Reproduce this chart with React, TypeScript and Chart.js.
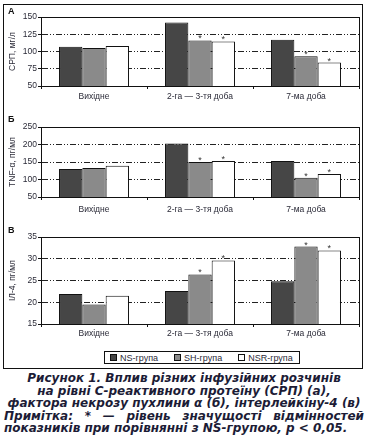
import React, { useEffect, useRef } from 'react';
import { Chart, registerables } from 'chart.js';

Chart.register(...registerables);

const categories = ['Вихідне', '2-га — 3-тя доба', '7-ма доба'];
const seriesNames = ['NS-група', 'SH-група', 'NSR-група'];
const seriesColors = ['#464646', '#8a8a8a', '#ffffff'];

const crpNS = [107, 142, 117];
const crpSH = [105, 116, 93];
const crpNSR = [108, 114.5, 84];

const tnfNS = [130, 203, 153];
const tnfSH = [133, 150, 105];
const tnfNSR = [139, 153, 116];

const il4NS = [21.9, 22.6, 24.8];
const il4SH = [19.5, 26.4, 32.8];
const il4NSR = [21.5, 29.6, 31.9];

const sigNS = [false, false, false];
const sigSH = [false, true, true];
const sigNSR = [false, true, true];

const panelLetters = ['А', 'Б', 'В'];
const yTitles = ['СРП, мг/л', 'TNF-α, пг/мл', 'ІЛ-4, пг/мл'];
const yMins = [50, 50, 15];
const yMaxs = [150, 250, 35];
const ySteps = [25, 50, 5];

const captionLines = [
  'Рисунок 1. Вплив різних інфузійних розчинів',
  'на рівні С-реактивного протеїну (СРП) (а),',
  'фактора некрозу пухлини α (б), інтерлейкіну-4 (в)',
  'Примітка: * — рівень значущості відмінностей',
  'показників при порівнянні з NS-групою, p < 0,05.',
];

const panelValues = [
  [crpNS, crpSH, crpNSR],
  [tnfNS, tnfSH, tnfNSR],
  [il4NS, il4SH, il4NSR],
];
const sigFlags = [sigNS, sigSH, sigNSR];

// layout of each panel canvas (page coordinates)
const panelLayout = [
  { top: 5, height: 100, padTop: 12, xHeight: 19, labelPad: 3, letterY: 7 },
  { top: 115, height: 100, padTop: 12, xHeight: 18, labelPad: 4.5, letterY: 5 },
  { top: 222, height: 118, padTop: 15, xHeight: 16, labelPad: 2, letterY: 8.5 },
];

const FONT = '"Liberation Sans", Arial, sans-serif';
const TEXT = '#2b2b38';

const panelPlugin = {
  id: 'panelDecor',
  afterDraw(chart: any, _args: any, opts: any) {
    const { ctx, chartArea: a } = chart;
    ctx.save();
    ctx.strokeStyle = '#111';
    ctx.lineWidth = 1;
    const l = Math.round(a.left), t = Math.round(a.top), r = Math.round(a.right), b = Math.round(a.bottom);
    ctx.strokeRect(l + 0.5, t + 0.5, r - l, b - t);
    ctx.fillStyle = '#333';
    ctx.font = `9px ${FONT}`;
    ctx.textAlign = 'center';
    ctx.textBaseline = 'alphabetic';
    chart.data.datasets.forEach((_ds: any, di: number) => {
      const meta = chart.getDatasetMeta(di);
      const flags = sigFlags[di];
      meta.data.forEach((el: any, i: number) => {
        if (flags[i]) ctx.fillText('*', el.x, el.y + 1);
      });
    });
    ctx.fillStyle = '#111';
    ctx.font = `bold 9px ${FONT}`;
    ctx.textAlign = 'left';
    ctx.textBaseline = 'middle';
    ctx.fillText(opts.letter, 4, opts.letterY);
    ctx.restore();
  },
};

function Panel({ idx }: { idx: number }) {
  const ref = useRef<HTMLCanvasElement>(null);
  const lay = panelLayout[idx];
  useEffect(() => {
    if (!ref.current) return;
    const chart = new Chart(ref.current, {
      type: 'bar',
      data: {
        labels: categories,
        datasets: seriesNames.map((name, i) => ({
          label: name,
          data: panelValues[idx][i],
          backgroundColor: seriesColors[i],
          borderColor: '#111',
          borderWidth: 1,
          borderSkipped: false,
          barPercentage: 1,
          categoryPercentage: 0.66,
        })),
      },
      options: {
        animation: false,
        responsive: false,
        layout: { padding: { left: 0, right: 3, top: lay.padTop, bottom: 0 } },
        plugins: {
          legend: { display: false },
          tooltip: { enabled: false },
          panelDecor: { letter: panelLetters[idx], letterY: lay.letterY },
        } as any,
        scales: {
          x: {
            offset: true,
            grid: {
              offset: true,
              drawOnChartArea: false,
              drawTicks: true,
              tickLength: 3,
              tickColor: '#111',
              color: '#111',
            },
            border: { display: true, color: '#111', width: 1 },
            ticks: { color: TEXT, font: { family: FONT, size: 8.5 }, padding: lay.labelPad, maxRotation: 0 },
            afterFit: (s: any) => { s.height = lay.xHeight; },
          },
          y: {
            min: yMins[idx],
            max: yMaxs[idx],
            ticks: { stepSize: ySteps[idx], color: TEXT, font: { family: FONT, size: 8.5 }, padding: 1 },
            grid: {
              color: '#222',
              lineWidth: 1,
              tickLength: 3,
              tickColor: '#111',
              tickBorderDash: [],
            },
            border: { display: true, color: '#111', width: 1, dash: [6, 2, 1, 2, 1, 2] },
            title: { display: true, text: yTitles[idx], color: TEXT, font: { family: FONT, size: 8.5 }, padding: { top: 4, bottom: 2 } },
            afterFit: (s: any) => { s.width = 37; },
          },
        },
      },
      plugins: [panelPlugin],
    });
    return () => chart.destroy();
  }, [idx]);
  return (
    <div style={{ position: 'absolute', left: 4, top: lay.top, width: 358, height: lay.height }}>
      <canvas ref={ref} width={358} height={lay.height} style={{ width: 358, height: lay.height, display: 'block' }} />
    </div>
  );
}

export default function App() {
  return (
    <div style={{ position: 'absolute', left: 0, top: 0, width: 367, height: 448, background: '#fff', overflow: 'hidden' }}>
      <div style={{ position: 'absolute', left: 3, top: 4, width: 360, height: 365, border: '1px solid #111', boxSizing: 'border-box' }} />
      {[0, 1, 2].map((i) => <Panel key={i} idx={i} />)}
      <div
        style={{
          position: 'absolute', left: 104, top: 351, width: 196, height: 13,
          border: '1px solid #111', boxSizing: 'border-box', display: 'flex', alignItems: 'center',
          paddingLeft: 5, font: `9px ${FONT}`, color: TEXT, whiteSpace: 'nowrap',
        }}
      >
        {seriesNames.map((n, i) => (
          <div key={n} style={{ display: 'flex', alignItems: 'center', marginRight: 16 }}>
            <span style={{ display: 'inline-block', width: 7, height: 7, boxSizing: 'border-box', border: '1px solid #111', background: seriesColors[i], marginRight: 3 }} />
            <span>{n}</span>
          </div>
        ))}
      </div>
      <div
        style={{
          position: 'absolute', left: 4, top: 372, width: 360,
          font: `oblique bold 12px "DejaVu Sans", sans-serif`, lineHeight: '12.5px', color: '#1c1c36',
        }}
      >
        {captionLines.map((line, i) => (
          <div
            key={i}
            style={{
              textAlign: i < 3 ? 'center' : i === 3 ? 'justify' : 'left',
              textAlignLast: i === 3 ? 'justify' : undefined,
              whiteSpace: 'nowrap',
            } as any}
          >
            {line}
          </div>
        ))}
      </div>
    </div>
  );
}
